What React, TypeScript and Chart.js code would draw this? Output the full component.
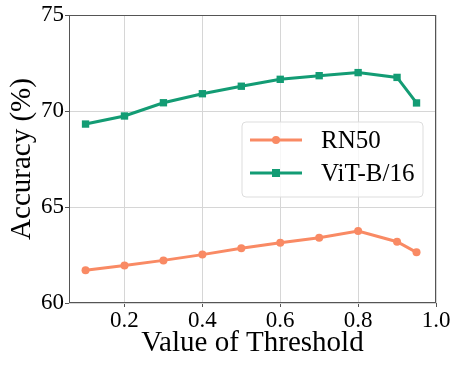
import React, { useEffect, useRef } from "react";
import { Chart, registerables } from "chart.js";

Chart.register(...registerables);

const thresholds = [0.1, 0.2, 0.3, 0.4, 0.5, 0.6, 0.7, 0.8, 0.9, 0.95];
const rn50 = [61.7, 61.95, 62.22, 62.52, 62.85, 63.14, 63.4, 63.75, 63.19, 62.64];
const vitB16 = [69.32, 69.74, 70.43, 70.9, 71.29, 71.65, 71.84, 72.0, 71.75, 70.42];
const xTicks = [0.2, 0.4, 0.6, 0.8, 1.0];
const yTicks = [60, 65, 70, 75];
const seriesNames = ["RN50", "ViT-B/16"];
const colors = ["#f98a64", "#139c74"];

const FONT = "'Liberation Serif', 'DejaVu Serif', serif";

const framePlugin = {
  id: "frame",
  afterDatasetsDraw(chart: any) {
    const { ctx, chartArea } = chart;
    ctx.save();
    ctx.strokeStyle = "#555555";
    ctx.lineWidth = 1;
    ctx.strokeRect(chartArea.left + 0.5, chartArea.top + 0.5, chartArea.right - chartArea.left - 1, chartArea.bottom - chartArea.top - 1);
    ctx.restore();
  },
};

const legendPlugin = {
  id: "floatLegend",
  afterDraw(chart: any) {
    const { ctx, chartArea } = chart;
    const w = 181;
    const h = 75;
    const x = chartArea.right - 13 - w;
    const y = chartArea.top + 107;
    ctx.save();
    ctx.beginPath();
    const r = 4;
    ctx.moveTo(x + r, y);
    ctx.arcTo(x + w, y, x + w, y + h, r);
    ctx.arcTo(x + w, y + h, x, y + h, r);
    ctx.arcTo(x, y + h, x, y, r);
    ctx.arcTo(x, y, x + w, y, r);
    ctx.closePath();
    ctx.fillStyle = "rgba(255,255,255,0.8)";
    ctx.fill();
    ctx.strokeStyle = "#dddddd";
    ctx.lineWidth = 1;
    ctx.stroke();
    seriesNames.forEach((name, i) => {
      const cy = y + 18 + i * 33;
      ctx.strokeStyle = colors[i];
      ctx.lineWidth = 3;
      ctx.beginPath();
      ctx.moveTo(x + 8, cy);
      ctx.lineTo(x + 60, cy);
      ctx.stroke();
      ctx.fillStyle = colors[i];
      if (i === 0) {
        ctx.beginPath();
        ctx.arc(x + 34, cy, 4, 0, Math.PI * 2);
        ctx.fill();
      } else {
        ctx.fillRect(x + 30, cy - 4, 8, 8);
      }
      ctx.fillStyle = "#000";
      ctx.font = `25px ${FONT}`;
      ctx.textBaseline = "middle";
      ctx.textAlign = "left";
      ctx.fillText(name, x + 79, cy + 1);
    });
    ctx.restore();
  },
};

export default function App() {
  const ref = useRef<HTMLCanvasElement>(null);
  useEffect(() => {
    document.body.style.margin = "0";
    const canvas = ref.current!;
    const chart = new Chart(canvas, {
      type: "line",
      data: {
        datasets: [
          {
            label: seriesNames[0],
            data: thresholds.map((t, i) => ({ x: t, y: rn50[i] })),
            borderColor: colors[0],
            backgroundColor: colors[0],
            borderWidth: 3,
            pointStyle: "circle",
            pointRadius: 4,
            pointBorderWidth: 0,
          },
          {
            label: seriesNames[1],
            data: thresholds.map((t, i) => ({ x: t, y: vitB16[i] })),
            borderColor: colors[1],
            backgroundColor: colors[1],
            borderWidth: 3,
            pointStyle: "rect",
            pointRadius: 5.2,
            pointBorderWidth: 0,
          },
        ],
      },
      options: {
        animation: false,
        responsive: false,
        layout: { padding: { left: 0, right: 23, top: 15, bottom: 0 } },
        plugins: { legend: { display: false }, tooltip: { enabled: false } },
        scales: {
          x: {
            type: "linear",
            min: 0.0575,
            max: 1.0,
            afterBuildTicks: (axis: any) => {
              axis.ticks = xTicks.map((v) => ({ value: v }));
            },
            afterFit: (axis: any) => {
              axis.height = 64;
            },
            ticks: {
              color: "#000",
              font: { family: FONT, size: 23 },
              padding: 0,
              maxRotation: 0,
              callback: (v: any) => Number(v).toFixed(1),
            },
            grid: { color: "#d6d6d6", tickColor: "#555", tickLength: 4 },
            border: { display: false },
            title: {
              display: true,
              text: "Value of Threshold",
              color: "#000",
              font: { family: FONT, size: 29 },
              padding: { top: 0, bottom: 6 },
            },
          },
          y: {
            min: 60,
            max: 75,
            afterBuildTicks: (axis: any) => {
              axis.ticks = yTicks.map((v) => ({ value: v }));
            },
            afterFit: (axis: any) => {
              axis.width = 69;
            },
            ticks: {
              color: "#000",
              font: { family: FONT, size: 23 },
              padding: 1,
            },
            grid: { color: "#d6d6d6", tickColor: "#555", tickLength: 4 },
            border: { display: false },
            title: {
              display: true,
              text: "Accuracy (%)",
              color: "#000",
              font: { family: FONT, size: 29 },
              padding: { top: 5, bottom: 0 },
            },
          },
        },
      },
      plugins: [framePlugin, legendPlugin],
    });
    return () => chart.destroy();
  }, []);
  return <canvas ref={ref} width={459} height={367} style={{ display: "block" }} />;
}
